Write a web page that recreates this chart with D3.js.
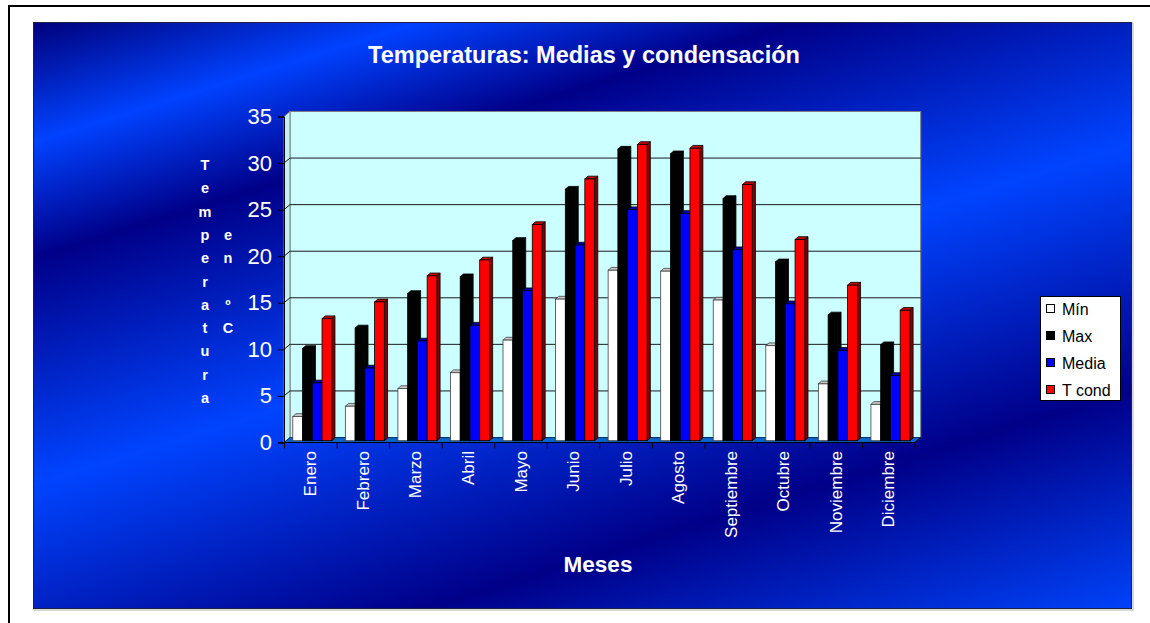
<!DOCTYPE html>
<html>
<head>
<meta charset="utf-8">
<script src="https://cdn.jsdelivr.net/npm/d3@7"></script>
<style>
  html, body { margin: 0; padding: 0; background: #fff; }
  svg { display: block; }
  text { font-family: "Liberation Sans", Arial, sans-serif; }
</style>
</head>
<body>
<svg id="chart" width="1150" height="623"></svg>
<script>
// Monthly temperatures (ºC)
const categories = ["Enero", "Febrero", "Marzo", "Abril", "Mayo", "Junio",
  "Julio", "Agosto", "Septiembre", "Octubre", "Noviembre", "Diciembre"];
const seriesNames = ["Mín", "Max", "Media", "T cond"];
const minValues   = [2.6, 3.7, 5.6, 7.3, 10.8, 15.2, 18.3, 18.2, 15.1, 10.2, 6.1, 3.9];
const maxValues   = [9.9, 12.1, 15.8, 17.6, 21.5, 27.0, 31.3, 30.8, 26.0, 19.2, 13.5, 10.3];
const mediaValues = [6.2, 7.8, 10.7, 12.4, 16.1, 21.0, 24.8, 24.4, 20.5, 14.7, 9.7, 7.0];
const tcondValues = [13.1, 14.9, 17.7, 19.4, 23.2, 28.1, 31.8, 31.4, 27.5, 21.6, 16.7, 14.0];
const yTicks = [0, 5, 10, 15, 20, 25, 30, 35];

const seriesValues = [minValues, maxValues, mediaValues, tcondValues];
// front, top and side face colours of each series
const faceColors = [
  { front: "#ffffff", top: "#c8c8c8", side: "#9a9a9a", stroke: "#404040" },
  { front: "#000000", top: "#000000", side: "#000000", stroke: "#000000" },
  { front: "#0000ff", top: "#0000b0", side: "#000090", stroke: "#000000" },
  { front: "#ff0000", top: "#c00000", side: "#800000", stroke: "#000000" }
];

const svg = d3.select("#chart");
const defs = svg.append("defs");

// diagonal banded blue background (bands run lower-left to upper-right)
const grad = defs.append("linearGradient").attr("id", "bg")
  .attr("gradientUnits", "userSpaceOnUse")
  .attr("x1", 33).attr("y1", 22).attr("x2", 295).attr("y2", 867);
[[0, "#00007a"], [0.13, "#0042ff"], [0.255, "#000088"], [0.50, "#0044ff"],
 [0.765, "#000088"], [1, "#0042f8"]].forEach(([o, c]) =>
  grad.append("stop").attr("offset", o).attr("stop-color", c));

// outer frame
svg.append("rect").attr("x", 9).attr("y", 6).attr("width", 1300).attr("height", 800)
  .attr("fill", "#fff").attr("stroke", "#000").attr("stroke-width", 2);

// chart panel
svg.append("rect").attr("x", 34).attr("y", 23).attr("width", 1099).attr("height", 587)
  .attr("fill", "none").attr("stroke", "#b0b0b0").attr("stroke-width", 1);
svg.append("rect").attr("x", 33.5).attr("y", 22.5).attr("width", 1098).attr("height", 586)
  .attr("fill", "url(#bg)").attr("stroke", "#202040").attr("stroke-width", 1);

// scales
const y = d3.scaleLinear().domain([0, 35]).range([442.5, 116.5]);
const x0 = 284, x1 = 914.7;
const depth = { dx: 6, dy: -5 };
const x = d3.scaleBand().domain(categories).range([x0, x1])
  .paddingInner(0.258).paddingOuter(0.129);
const xs = d3.scaleBand().domain(seriesNames).range([0, x.bandwidth()]);

const plot = svg.append("g");

// back wall
plot.append("rect")
  .attr("x", x0 + depth.dx).attr("y", y(35) + depth.dy)
  .attr("width", x1 - x0).attr("height", y(0) - y(35))
  .attr("fill", "#ccffff").attr("stroke", "#808080").attr("stroke-width", 1);
// left side wall
plot.append("path")
  .attr("d", `M${x0},${y(0)} L${x0 + depth.dx},${y(0) + depth.dy} L${x0 + depth.dx},${y(35) + depth.dy} L${x0},${y(35)} Z`)
  .attr("fill", "#bff2f2").attr("stroke", "#808080").attr("stroke-width", 1);

// gridlines on the walls
const grid = yTicks.filter(v => v > 0 && v < 35);
plot.selectAll(".grid").data(grid).join("path")
  .attr("d", v => `M${x0},${y(v)} L${x0 + depth.dx},${y(v) + depth.dy} L${x1 + depth.dx},${y(v) + depth.dy}`)
  .attr("fill", "none").attr("stroke", "#1a1a1a").attr("stroke-width", 1);

// floor
plot.append("path")
  .attr("d", `M${x0},${y(0)} L${x1},${y(0)} L${x1 + depth.dx},${y(0) + depth.dy} L${x0 + depth.dx},${y(0) + depth.dy} Z`)
  .attr("fill", "#0a64c8").attr("stroke", "#003070").attr("stroke-width", 1);

// 3D columns
const base = { dx: 2, dy: -1.8 };
const bar = { dx: 3.2, dy: -2.8 };
const barsG = plot.append("g");
categories.forEach((cat, i) => {
  seriesNames.forEach((s, k) => {
    const v = seriesValues[k][i];
    const c = faceColors[k];
    const bx = x(cat) + xs(s) + base.dx;
    const bw = xs.bandwidth();
    const top = y(v) + base.dy;
    const bottom = y(0) + base.dy;
    const g = barsG.append("g");
    // side face
    g.append("path")
      .attr("d", `M${bx + bw},${top} L${bx + bw + bar.dx},${top + bar.dy} L${bx + bw + bar.dx},${bottom + bar.dy} L${bx + bw},${bottom} Z`)
      .attr("fill", c.side).attr("stroke", c.stroke).attr("stroke-width", 0.8);
    // top face
    g.append("path")
      .attr("d", `M${bx},${top} L${bx + bar.dx},${top + bar.dy} L${bx + bw + bar.dx},${top + bar.dy} L${bx + bw},${top} Z`)
      .attr("fill", c.top).attr("stroke", c.stroke).attr("stroke-width", 0.8);
    // front face
    g.append("rect").attr("x", bx).attr("y", top).attr("width", bw).attr("height", bottom - top)
      .attr("fill", c.front).attr("stroke", c.stroke).attr("stroke-width", 0.8);
  });
});

// y axis
const yAxis = d3.axisLeft(y).tickValues(yTicks).tickSize(6).tickPadding(6);
const yG = svg.append("g").attr("transform", `translate(${x0},0)`).call(yAxis);
yG.select(".domain").attr("stroke", "#000");
yG.selectAll(".tick line").attr("stroke", "#000");
yG.selectAll(".tick text").attr("fill", "#fff").attr("font-size", 22)
  .attr("font-family", "Liberation Sans, Arial, sans-serif");

// x axis
const xAxis = d3.axisBottom(d3.scaleLinear().domain([0, 12]).range([x0, x1]))
  .tickValues(d3.range(13)).tickSize(6).tickFormat("");
const xG = svg.append("g").attr("transform", `translate(0,${y(0)})`).call(xAxis);
xG.select(".domain").attr("stroke", "#000").attr("d", `M${x0 - 6},0H${x1}`);
xG.selectAll(".tick line").attr("stroke", "#000");
svg.append("line").attr("x1", x1).attr("y1", y(0)).attr("x2", x1 + depth.dx).attr("y2", y(0) + depth.dy)
  .attr("stroke", "#000");

// category labels
svg.append("g").selectAll("text").data(categories).join("text")
  .attr("transform", d => `translate(${x(d) + x.bandwidth() / 2 + 6},${451}) rotate(-90)`)
  .attr("text-anchor", "end")
  .attr("fill", "#fff").attr("font-size", 17)
  .text(d => d);

// title
svg.append("text").attr("x", 584).attr("y", 63).attr("text-anchor", "middle")
  .attr("fill", "#fff").attr("font-weight", "bold").attr("font-size", 23.5)
  .text("Temperaturas: Medias y condensación");

// x axis title
svg.append("text").attr("x", 598).attr("y", 572).attr("text-anchor", "middle")
  .attr("fill", "#fff").attr("font-weight", "bold").attr("font-size", 22.5)
  .text("Meses");

// y axis title, stacked letters in two columns
const yTitleCols = [{ text: "Temperatura", cx: 205 }, { text: "en ºC", cx: 228 }];
const rowStep = 23.3, midY = 281.5;
yTitleCols.forEach(col => {
  const chars = Array.from(col.text);
  const start = midY - (chars.length - 1) * rowStep / 2;
  svg.append("g").selectAll("text").data(chars).join("text")
    .attr("x", col.cx).attr("y", (d, i) => start + i * rowStep + 5)
    .attr("text-anchor", "middle").attr("fill", "#fff")
    .attr("font-weight", "bold").attr("font-size", 14.5)
    .text(d => d);
});

// legend
const lg = svg.append("g");
lg.append("rect").attr("x", 1040.5).attr("y", 296.5).attr("width", 80).attr("height", 104)
  .attr("fill", "#fff").attr("stroke", "#000");
seriesNames.forEach((s, k) => {
  const cy = 309 + k * 27;
  lg.append("rect").attr("x", 1046.5).attr("y", cy - 4.5).attr("width", 8).attr("height", 8)
    .attr("fill", faceColors[k].front).attr("stroke", "#000");
  lg.append("text").attr("x", 1062).attr("y", cy + 6).attr("fill", "#000")
    .attr("font-size", 16).text(s);
});
</script>
</body>
</html>
